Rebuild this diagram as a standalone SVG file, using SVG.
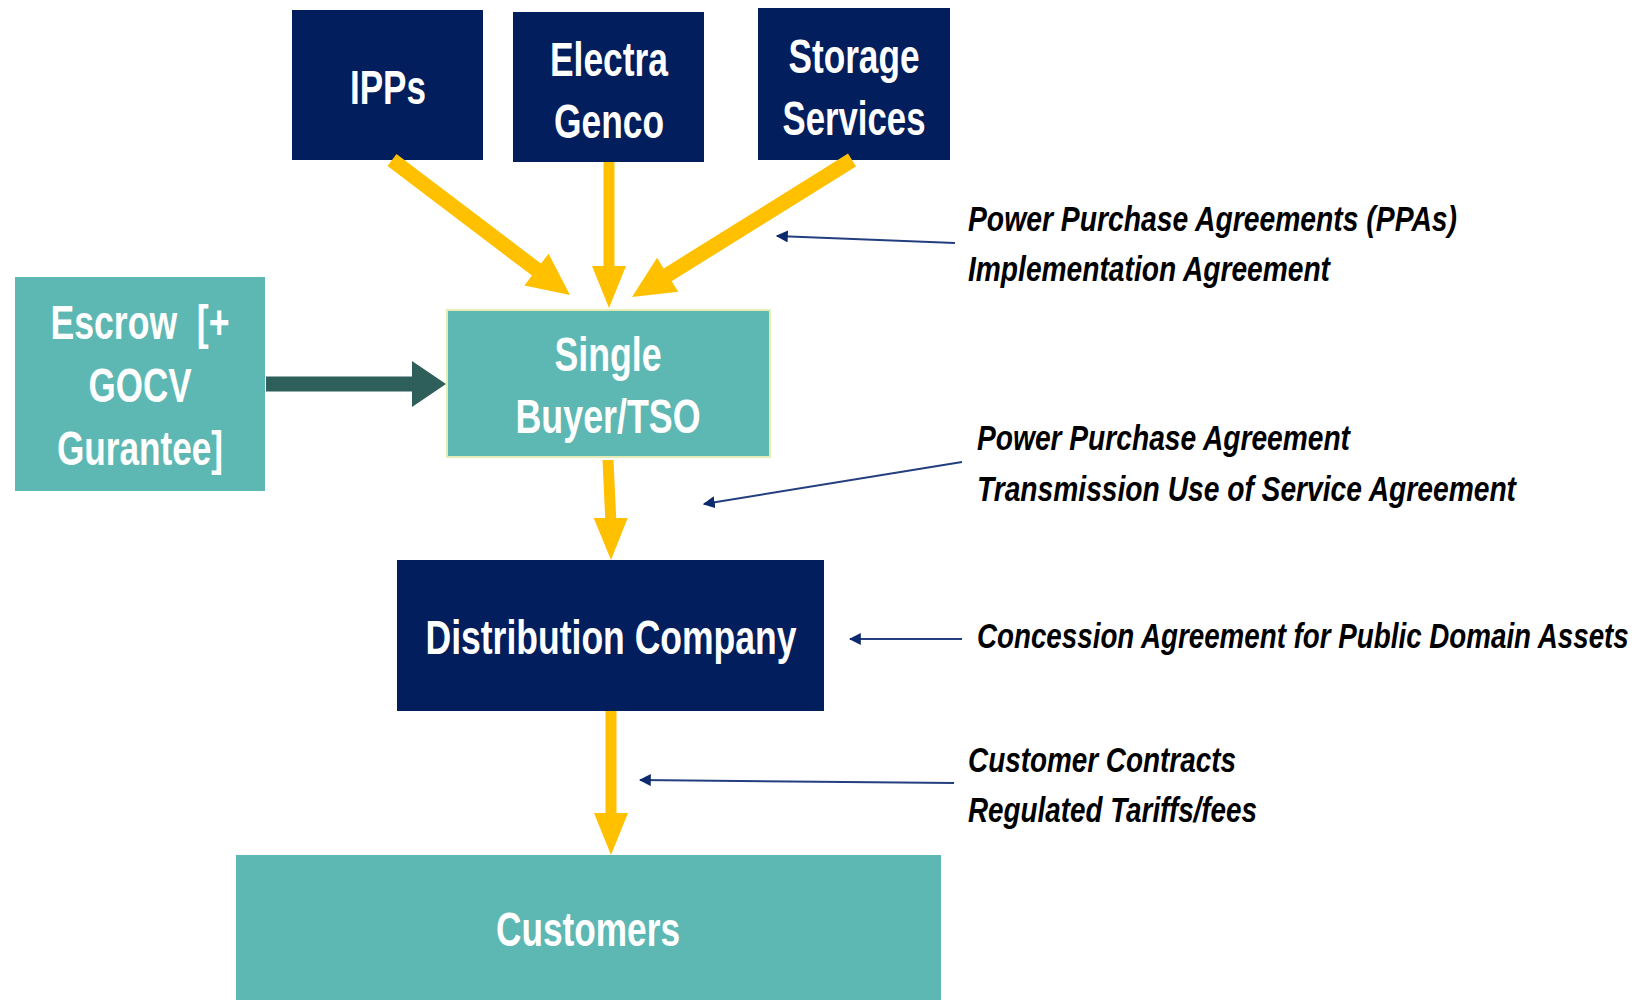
<svg xmlns="http://www.w3.org/2000/svg" width="1650" height="1000" viewBox="0 0 1650 1000">
<style>
.navy{fill:#021E5C}
.teal{fill:#5DB8B3}
.nt{font-family:"Liberation Sans",Arial,sans-serif;font-weight:bold;font-size:48px;fill:#FFFFFF;text-anchor:middle}
.lb{font-family:"Liberation Sans",Arial,sans-serif;font-weight:bold;font-style:italic;font-size:35px;fill:#000000}
.ya{fill:#FFC000}
.thin{stroke:#233E7E;stroke-width:2;fill:none;marker-end:url(#ah)}
</style>
<defs>
<marker id="ah" viewBox="0 0 10 10" refX="9" refY="5" markerWidth="6" markerHeight="6" orient="auto" markerUnits="strokeWidth">
<path d="M0,0 L10,5 L0,10 Z" fill="#0E2A6E"/>
</marker>
</defs>
<rect width="1650" height="1000" fill="#FFFFFF"/>
<g id="ipps">
<rect class="navy" x="292" y="10" width="191" height="150"/>
<text class="nt" x="388" y="104" textLength="76" lengthAdjust="spacingAndGlyphs">IPPs</text>
</g>
<g id="electra">
<rect class="navy" x="513" y="12" width="191" height="150"/>
<text class="nt" x="609" y="76" textLength="118" lengthAdjust="spacingAndGlyphs">Electra</text>
<text class="nt" x="609" y="138" textLength="110" lengthAdjust="spacingAndGlyphs">Genco</text>
</g>
<g id="storage">
<rect class="navy" x="758" y="8" width="192" height="152"/>
<text class="nt" x="854" y="73" textLength="131" lengthAdjust="spacingAndGlyphs">Storage</text>
<text class="nt" x="854" y="135" textLength="143" lengthAdjust="spacingAndGlyphs">Services</text>
</g>
<g id="escrow">
<rect class="teal" x="15" y="277" width="250" height="214"/>
<text class="nt" x="140" y="339" textLength="179" lengthAdjust="spacingAndGlyphs" xml:space="preserve">Escrow  [+</text>
<text class="nt" x="140" y="402" textLength="103" lengthAdjust="spacingAndGlyphs">GOCV</text>
<text class="nt" x="140" y="465" textLength="166" lengthAdjust="spacingAndGlyphs">Gurantee]</text>
</g>
<g id="singlebuyer">
<rect class="teal" x="447" y="310" width="323" height="147" stroke="#E4EDB5" stroke-width="2"/>
<text class="nt" x="608" y="371" textLength="107" lengthAdjust="spacingAndGlyphs">Single</text>
<text class="nt" x="608" y="433" textLength="185" lengthAdjust="spacingAndGlyphs">Buyer/TSO</text>
</g>
<g id="distribution">
<rect class="navy" x="397" y="560" width="427" height="151"/>
<text class="nt" x="611" y="654" textLength="371" lengthAdjust="spacingAndGlyphs">Distribution Company</text>
</g>
<g id="customers">
<rect class="teal" x="236" y="855" width="705" height="145"/>
<text class="nt" x="588" y="946" textLength="184" lengthAdjust="spacingAndGlyphs">Customers</text>
</g>
<g id="connectors">
<polygon class="ya" points="387.5,166 532,275.6 524.4,285.5 570,295 548.6,253.7 541,263.6 396.5,154"/>
<polygon class="ya" points="603.5,162 603.5,266 592,266 609,308 626,266 614.5,266 614.5,162"/>
<polygon class="ya" points="848,153.6 663.7,268.4 657.1,257.8 632,297 678.3,291.8 671.7,281.2 856,166.4"/>
<polygon class="ya" points="602.5,460 605.2,518 593.7,518 611,560 627.7,518 616.2,518 613.5,460"/>
<polygon class="ya" points="605.5,711 605.5,813 594,813 611,855 628,813 616.5,813 616.5,711"/>
<polygon fill="#2E5F5B" points="266,376.5 412,376.5 412,361 446,384 412,407 412,391.5 266,391.5"/>
<line class="thin" x1="955" y1="243" x2="777" y2="236"/>
<line class="thin" x1="962" y1="462" x2="704" y2="504"/>
<line class="thin" x1="962" y1="639" x2="850" y2="639"/>
<line class="thin" x1="954" y1="783" x2="640" y2="780"/>
</g>
<g id="labels">
<text class="lb" x="968" y="231" textLength="489" lengthAdjust="spacingAndGlyphs">Power Purchase Agreements (PPAs)</text>
<text class="lb" x="968" y="281" textLength="362" lengthAdjust="spacingAndGlyphs">Implementation Agreement</text>
<text class="lb" x="977" y="450" textLength="373" lengthAdjust="spacingAndGlyphs">Power Purchase Agreement</text>
<text class="lb" x="977" y="501" textLength="539" lengthAdjust="spacingAndGlyphs">Transmission Use of Service Agreement</text>
<text class="lb" transform="translate(977,648) scale(0.75,1)" x="0" y="0" textLength="869" lengthAdjust="spacingAndGlyphs">Concession Agreement for Public Domain Assets</text>
<text class="lb" x="968" y="772" textLength="268" lengthAdjust="spacingAndGlyphs">Customer Contracts</text>
<text class="lb" x="968" y="822" textLength="289" lengthAdjust="spacingAndGlyphs">Regulated Tariffs/fees</text>
</g>
</svg>
